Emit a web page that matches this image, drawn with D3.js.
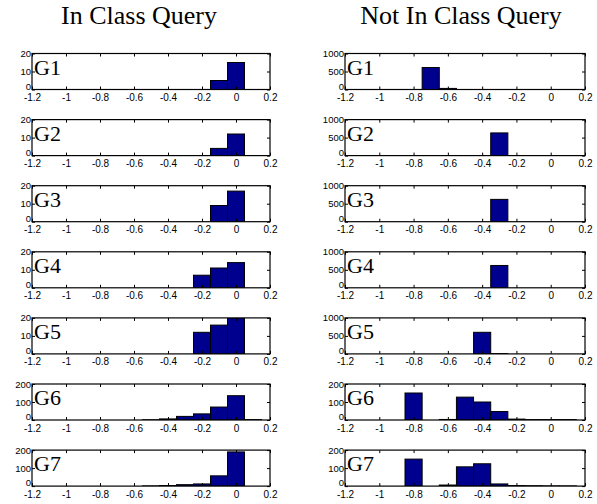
<!DOCTYPE html>
<html>
<head>
<meta charset="utf-8">
<script src="https://cdn.jsdelivr.net/npm/d3@7"></script>
<style>
  body { margin: 0; background: #fff; }
  svg { display: block; }
  .tick text { font-family: "Liberation Sans", Arial, sans-serif; }
</style>
</head>
<body>
<svg id="chart" width="597" height="504"></svg>
<script>
// Histogram bin centres shared by every panel
const binCenters = [-1.1, -1.0, -0.9, -0.8, -0.7, -0.6, -0.5, -0.4, -0.3, -0.2, -0.1, 0.0, 0.1];
const binWidth = 0.1;

const groups = ["G1", "G2", "G3", "G4", "G5", "G6", "G7"];
const columnTitles = ["In Class Query", "Not In Class Query"];

// Counts per bin, in-class queries
const inG1 = [0, 0, 0, 0, 0, 0, 0, 0, 0, 0, 5, 15, 0];
const inG2 = [0, 0, 0, 0, 0, 0, 0, 0, 0, 0, 4, 12, 0];
const inG3 = [0, 0, 0, 0, 0, 0, 0, 0, 0, 0, 9, 17, 0];
const inG4 = [0, 0, 0, 0, 0, 0, 0, 0, 0, 7, 11, 14, 0];
const inG5 = [0, 0, 0, 0, 0, 0, 0, 0, 0, 12, 16, 20, 0];
const inG6 = [0, 0, 0, 0, 0, 0, 1, 6, 20, 34, 72, 135, 2];
const inG7 = [0, 0, 0, 0, 0, 0, 1, 3, 8, 12, 57, 190, 0];

// Counts per bin, not-in-class queries
const outG1 = [0, 0, 0, 0, 610, 30, 0, 0, 0, 0, 0, 0, 0];
const outG2 = [0, 0, 0, 0, 0, 0, 0, 0, 630, 0, 0, 0, 0];
const outG3 = [0, 0, 0, 0, 0, 0, 0, 0, 620, 0, 0, 0, 0];
const outG4 = [0, 0, 0, 0, 0, 0, 0, 0, 620, 0, 0, 0, 0];
const outG5 = [0, 0, 0, 0, 0, 0, 0, 600, 8, 0, 0, 0, 0];
const outG6 = [0, 0, 0, 150, 0, 3, 127, 100, 47, 5, 2, 2, 2];
const outG7 = [0, 0, 0, 150, 0, 6, 107, 124, 12, 3, 2, 1, 1];

// Axis limits and tick labels
const xTicks = [-1.2, -1, -0.8, -0.6, -0.4, -0.2, 0, 0.2];
const xTickLabels = ["-1.2", "-1", "-0.8", "-0.6", "-0.4", "-0.2", "0", "0.2"];
const yMaxIn = [20, 20, 20, 20, 20, 200, 200];
const yMaxOut = [1000, 1000, 1000, 1000, 1000, 200, 200];

const columns = [
  { title: columnTitles[0], titleX: 139, series: [inG1, inG2, inG3, inG4, inG5, inG6, inG7], yMax: yMaxIn, left: 32, right: 270 },
  { title: columnTitles[1], titleX: 461, series: [outG1, outG2, outG3, outG4, outG5, outG6, outG7], yMax: yMaxOut, left: 345, right: 585 }
];

const svg = d3.select("#chart");
const barFill = "#00008f";
const rowTop = i => 53.5 + i * 66.1;
const rowHeight = 36;

columns.forEach(col => {
  svg.append("text")
    .attr("x", col.titleX)
    .attr("y", 24)
    .attr("text-anchor", "middle")
    .attr("font-family", "Liberation Serif, 'Times New Roman', serif")
    .attr("font-size", 26)
    .text(col.title);

  col.series.forEach((values, i) => {
    const top = rowTop(i);
    const x = d3.scaleLinear().domain([-1.2, 0.2]).range([col.left, col.right]);
    const y = d3.scaleLinear().domain([0, col.yMax[i]]).range([top + rowHeight, top]);
    const yTicks = [0, col.yMax[i] / 2, col.yMax[i]];

    const g = svg.append("g");
    const clipId = "clip-" + col.left + "-" + i;
    g.append("clipPath").attr("id", clipId)
      .append("rect")
      .attr("x", col.left).attr("y", top)
      .attr("width", col.right - col.left).attr("height", rowHeight);

    // bars (zero-height bins still leave their outline on the baseline)
    g.append("g").attr("clip-path", `url(#${clipId})`)
      .selectAll("rect")
      .data(binCenters.map((c, k) => ({ c, v: values[k] })))
      .join("rect")
      .attr("x", d => x(d.c - binWidth / 2))
      .attr("width", d => x(d.c + binWidth / 2) - x(d.c - binWidth / 2))
      .attr("y", d => y(Math.min(d.v, col.yMax[i])))
      .attr("height", d => y(0) - y(Math.min(d.v, col.yMax[i])))
      .attr("fill", barFill)
      .attr("stroke", "#000")
      .attr("stroke-width", 1);

    // axes: inward ticks on all four sides
    const tickLen = 3;
    const bottom = g.append("g")
      .attr("transform", `translate(0,${top + rowHeight})`)
      .call(d3.axisBottom(x).tickValues(xTicks).tickSizeInner(-tickLen).tickSizeOuter(0)
        .tickFormat((d, k) => xTickLabels[k]));
    bottom.selectAll(".tick text").attr("font-size", 10).attr("dy", "0.75em").attr("y", 4);
    g.append("g")
      .attr("transform", `translate(0,${top})`)
      .call(d3.axisTop(x).tickValues(xTicks).tickSizeInner(-tickLen).tickSizeOuter(0).tickFormat(""));

    const left = g.append("g")
      .attr("transform", `translate(${col.left},0)`)
      .call(d3.axisLeft(y).tickValues(yTicks).tickSizeInner(-tickLen).tickSizeOuter(0).tickPadding(1)
        .tickFormat(d => String(d)));
    left.selectAll(".tick text").attr("font-size", 9.5)
      .attr("dy", d => d === 0 ? "-0.05em" : "0.32em");
    g.append("g")
      .attr("transform", `translate(${col.right},0)`)
      .call(d3.axisRight(y).tickValues(yTicks).tickSizeInner(-tickLen).tickSizeOuter(0).tickFormat(""));

    g.selectAll(".domain").remove();
    g.append("rect")
      .attr("x", col.left).attr("y", top)
      .attr("width", col.right - col.left).attr("height", rowHeight)
      .attr("fill", "none").attr("stroke", "#000").attr("stroke-width", 1.2);

    g.append("text")
      .attr("x", col.left + 2)
      .attr("y", top + 21)
      .attr("font-family", "Liberation Serif, 'Times New Roman', serif")
      .attr("font-size", 22)
      .text(groups[i]);
  });
});
</script>
</body>
</html>
